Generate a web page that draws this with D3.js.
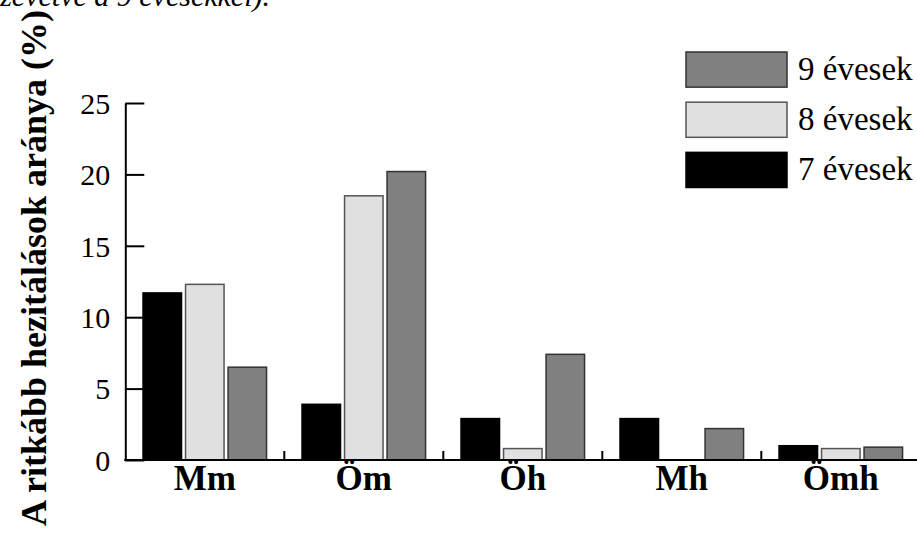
<!DOCTYPE html>
<html>
<head>
<meta charset="utf-8">
<script src="https://cdn.jsdelivr.net/npm/d3@7"></script>
<style>
  body { margin: 0; background: #fff; }
  svg { display: block; font-family: "Liberation Serif", "Times New Roman", serif; }
</style>
</head>
<body>
<svg id="chart" width="917" height="540"></svg>
<script>
const categories = ["Mm", "Öm", "Öh", "Mh", "Ömh"];
const seriesNames = ["7 évesek", "8 évesek", "9 évesek"];
const values7 = [11.7, 3.9, 2.9, 2.9, 1.0];
const values8 = [12.3, 18.5, 0.8, 0.0, 0.8];
const values9 = [6.5, 20.2, 7.4, 2.2, 0.9];
const yTicks = [0, 5, 10, 15, 20, 25];
const yTitle = "A ritkább hezitálások aránya (%)";
const topText = "(összevetve a 9 évesekkel).";

const seriesValues = [values7, values8, values9];
const fills = ["#000000", "#e0e0e0", "#808080"];
const strokes = ["#000000", "#555555", "#333333"];

const svg = d3.select("#chart");

const x0 = d3.scaleBand().domain(categories).range([125.3, 920.3]).paddingInner(0).paddingOuter(0);
const x1 = d3.scaleBand().domain(seriesNames).range([0, x0.bandwidth()]).paddingInner(0.094).paddingOuter(0.417);
const y = d3.scaleLinear().domain([0, 25]).range([460, 103]);

// cut-off text at the top (continuation of a sentence above the figure)
svg.append("text").attr("x", 270).attr("y", 6)
  .attr("text-anchor", "end")
  .attr("font-size", 30).attr("font-style", "italic").attr("fill", "#000")
  .text(topText);

// Bars
const groups = svg.append("g").selectAll("g").data(categories).join("g")
  .attr("transform", d => `translate(${x0(d)},0)`);
groups.selectAll("rect")
  .data((c, i) => seriesNames.map((s, j) => ({ s, j, v: seriesValues[j][i] })))
  .join("rect")
  .attr("x", d => x1(d.s))
  .attr("width", x1.bandwidth())
  .attr("y", d => y(d.v))
  .attr("height", d => y(0) - y(d.v))
  .attr("fill", d => fills[d.j])
  .attr("stroke", d => strokes[d.j])
  .attr("stroke-width", 1.5);

// Y axis
const yAxis = d3.axisLeft(y).tickValues(yTicks).tickSizeInner(-19).tickSizeOuter(0).tickPadding(15);
const gy = svg.append("g").attr("transform", "translate(125.3,0)").call(yAxis)
  .attr("font-family", "Liberation Serif, serif");
gy.select(".domain").attr("stroke", "#000").attr("stroke-width", 2);
gy.selectAll(".tick line").attr("stroke", "#000").attr("stroke-width", 2);
gy.selectAll(".tick text").attr("font-size", 30).attr("fill", "#000").attr("dy", "0.34em");

// X axis line
svg.append("line").attr("x1", 124.3).attr("x2", 917).attr("y1", y(0)).attr("y2", y(0))
  .attr("stroke", "#000").attr("stroke-width", 2);
// X ticks at category boundaries
svg.append("g").selectAll("line").data(categories.slice(1)).join("line")
  .attr("x1", d => x0(d)).attr("x2", d => x0(d))
  .attr("y1", y(0)).attr("y2", y(0) - 9)
  .attr("stroke", "#000").attr("stroke-width", 2);
// X labels
svg.append("g").selectAll("text").data(categories).join("text")
  .attr("x", d => x0(d) + x0.bandwidth() / 2)
  .attr("y", 490)
  .attr("text-anchor", "middle")
  .attr("font-size", 35).attr("font-weight", "bold")
  .text(d => d);

// Y title
svg.append("text")
  .attr("transform", "translate(46,268) rotate(-90)")
  .attr("text-anchor", "middle")
  .attr("font-size", 36).attr("font-weight", "bold")
  .text(yTitle);

// Legend
const legendOrder = [2, 1, 0];
const ly = d3.scaleBand().domain(legendOrder).range([52, 187.5]).paddingInner(0.3);
const lg = svg.append("g").selectAll("g").data(legendOrder).join("g")
  .attr("transform", d => `translate(686,${ly(d)})`);
lg.append("rect").attr("width", 101).attr("height", ly.bandwidth())
  .attr("fill", d => fills[d]).attr("stroke", d => strokes[d]).attr("stroke-width", 1.5);
lg.append("text").attr("x", 112).attr("y", ly.bandwidth() / 2 + 10)
  .attr("font-size", 33).text(d => seriesNames[d]);
</script>
</body>
</html>
